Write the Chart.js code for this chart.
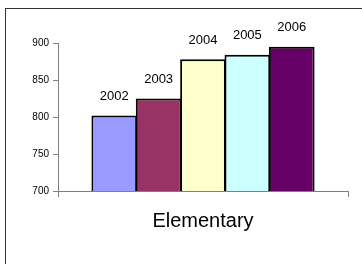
<!DOCTYPE html>
<html>
<head>
<meta charset="utf-8">
<script src="https://cdn.jsdelivr.net/npm/chart.js@4.4.0/dist/chart.umd.min.js"></script>
<style>
    html, body { margin: 0; padding: 0; background: #fff; }
    #wrap { position: relative; width: 362px; height: 264px; overflow: hidden; }
    #frame { position: absolute; left: 5px; top: 8px; width: 400px; height: 300px; border: 1px solid #333; box-sizing: border-box; }
    canvas { position: absolute; left: 0; top: 0; }
</style>
</head>
<body>
<div id="wrap">
    <div id="frame"></div>
    <canvas id="grafico" width="362" height="264"></canvas>
</div>
<script>
// Dados do gráfico
const categorias = ['Elementary'];
const anos = ['2002', '2003', '2004', '2005', '2006'];
const valores = [802, 825, 878, 884, 895];
const cores = ['#9999FF', '#993366', '#FFFFCC', '#CCFFFF', '#660066'];
const ticksY = [700, 750, 800, 850, 900];

// Plugin simples para escrever o ano acima de cada barra
const rotuloAno = {
    id: 'rotuloAno',
    afterDatasetsDraw(chart) {
        const ctx = chart.ctx;
        ctx.save();
        ctx.font = '13px Arial, "Liberation Sans"';
        ctx.fillStyle = '#000';
        ctx.textAlign = 'center';
        ctx.textBaseline = 'middle';
        chart.data.datasets.forEach((ds, i) => {
            const barra = chart.getDatasetMeta(i).data[0];
            ctx.fillText(ds.label, barra.x, barra.y - 19);
        });
        ctx.restore();
    }
};

const datasets = anos.map((ano, i) => ({
    label: ano,
    data: [valores[i]],
    backgroundColor: cores[i],
    borderColor: '#000',
    borderWidth: 2,
    borderSkipped: 'bottom',
    categoryPercentage: 0.765,
    barPercentage: 1.03
}));

const ctx = document.getElementById('grafico').getContext('2d');
new Chart(ctx, {
    type: 'bar',
    data: { labels: categorias, datasets: datasets },
    plugins: [rotuloAno],
    options: {
        responsive: false,
        animation: false,
        layout: { padding: { top: 43, right: 14, left: 0, bottom: 0 } },
        plugins: {
            legend: { display: false },
            tooltip: { enabled: false }
        },
        scales: {
            x: {
                grid: { offset: true, drawOnChartArea: false, tickLength: 6, color: '#808080', lineWidth: 1 },
                border: { color: '#808080', width: 1 },
                ticks: { color: '#000', font: { family: 'Arial, "Liberation Sans"', size: 20 }, padding: 12 },
                afterFit: (escala) => { escala.height = 73; }
            },
            y: {
                min: 700,
                max: 900,
                afterBuildTicks: (escala) => { escala.ticks = ticksY.map(v => ({ value: v })); },
                grid: { drawOnChartArea: false, tickLength: 5, color: '#808080', lineWidth: 1 },
                border: { color: '#808080', width: 1 },
                ticks: { color: '#000', font: { family: 'Arial, "Liberation Sans"', size: 10 }, padding: 4 },
                afterFit: (escala) => { escala.width = 58; }
            }
        }
    }
});
</script>
</body>
</html>
